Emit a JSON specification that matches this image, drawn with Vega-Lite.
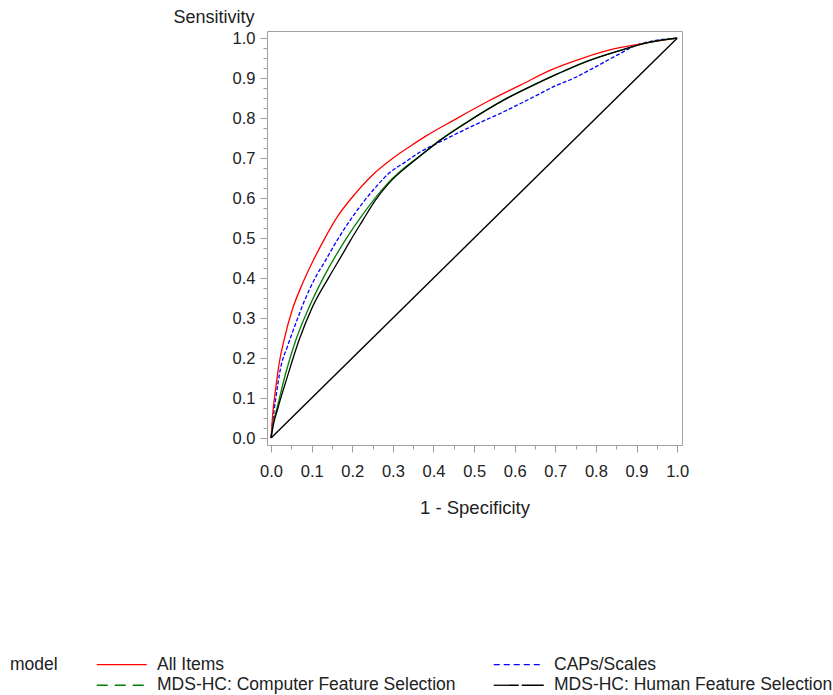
{
  "$schema": "https://vega.github.io/schema/vega-lite/v6.json",
  "autosize": "none",
  "width": 415,
  "height": 414,
  "padding": {"left": 267, "top": 31, "right": 151, "bottom": 250},
  "background": "white",
  "config": {
    "font": "Liberation Sans",
    "view": {"stroke": "#a0a0a0", "strokeWidth": 1},
    "axis": {
      "domain": false,
      "grid": false,
      "tickColor": "#a0a0a0",
      "tickWidth": 1,
      "labelColor": "#222222",
      "titleColor": "#222222",
      "labelFontSize": 16.5,
      "titleFontSize": 18,
      "titleFontWeight": "normal"
    },
    "legend": {
      "labelColor": "#222222",
      "titleColor": "#222222"
    }
  },
  "datasets": {
    "diagonal": [
      {"fpr": 0, "tpr": 0},
      {"fpr": 1, "tpr": 1}
    ],
    "roc": [
      {"model": "All Items", "fpr": 0, "tpr": 0},
      {"model": "All Items", "fpr": 0.005, "tpr": 0.07},
      {"model": "All Items", "fpr": 0.011, "tpr": 0.12},
      {"model": "All Items", "fpr": 0.02, "tpr": 0.187},
      {"model": "All Items", "fpr": 0.032, "tpr": 0.245},
      {"model": "All Items", "fpr": 0.052, "tpr": 0.32},
      {"model": "All Items", "fpr": 0.077, "tpr": 0.385},
      {"model": "All Items", "fpr": 0.102, "tpr": 0.44},
      {"model": "All Items", "fpr": 0.13, "tpr": 0.495},
      {"model": "All Items", "fpr": 0.165, "tpr": 0.556},
      {"model": "All Items", "fpr": 0.208, "tpr": 0.612},
      {"model": "All Items", "fpr": 0.25, "tpr": 0.658},
      {"model": "All Items", "fpr": 0.299, "tpr": 0.699},
      {"model": "All Items", "fpr": 0.34, "tpr": 0.728},
      {"model": "All Items", "fpr": 0.381, "tpr": 0.755},
      {"model": "All Items", "fpr": 0.45, "tpr": 0.795},
      {"model": "All Items", "fpr": 0.532, "tpr": 0.841},
      {"model": "All Items", "fpr": 0.614, "tpr": 0.8825},
      {"model": "All Items", "fpr": 0.688, "tpr": 0.92},
      {"model": "All Items", "fpr": 0.77, "tpr": 0.951},
      {"model": "All Items", "fpr": 0.844, "tpr": 0.973},
      {"model": "All Items", "fpr": 0.934, "tpr": 0.99},
      {"model": "All Items", "fpr": 1, "tpr": 1},

      {"model": "CAPs/Scales", "fpr": 0, "tpr": 0},
      {"model": "CAPs/Scales", "fpr": 0.005, "tpr": 0.05},
      {"model": "CAPs/Scales", "fpr": 0.011, "tpr": 0.095},
      {"model": "CAPs/Scales", "fpr": 0.024, "tpr": 0.178},
      {"model": "CAPs/Scales", "fpr": 0.04, "tpr": 0.228},
      {"model": "CAPs/Scales", "fpr": 0.061, "tpr": 0.287},
      {"model": "CAPs/Scales", "fpr": 0.081, "tpr": 0.34},
      {"model": "CAPs/Scales", "fpr": 0.11, "tpr": 0.403},
      {"model": "CAPs/Scales", "fpr": 0.13, "tpr": 0.437},
      {"model": "CAPs/Scales", "fpr": 0.163, "tpr": 0.495},
      {"model": "CAPs/Scales", "fpr": 0.195, "tpr": 0.545},
      {"model": "CAPs/Scales", "fpr": 0.225, "tpr": 0.587},
      {"model": "CAPs/Scales", "fpr": 0.26, "tpr": 0.63},
      {"model": "CAPs/Scales", "fpr": 0.29, "tpr": 0.662},
      {"model": "CAPs/Scales", "fpr": 0.33, "tpr": 0.69},
      {"model": "CAPs/Scales", "fpr": 0.368, "tpr": 0.716},
      {"model": "CAPs/Scales", "fpr": 0.417, "tpr": 0.741},
      {"model": "CAPs/Scales", "fpr": 0.491, "tpr": 0.778},
      {"model": "CAPs/Scales", "fpr": 0.573, "tpr": 0.816},
      {"model": "CAPs/Scales", "fpr": 0.655, "tpr": 0.8575},
      {"model": "CAPs/Scales", "fpr": 0.704, "tpr": 0.8825},
      {"model": "CAPs/Scales", "fpr": 0.737, "tpr": 0.896},
      {"model": "CAPs/Scales", "fpr": 0.795, "tpr": 0.926},
      {"model": "CAPs/Scales", "fpr": 0.852, "tpr": 0.9575},
      {"model": "CAPs/Scales", "fpr": 0.9, "tpr": 0.9825},
      {"model": "CAPs/Scales", "fpr": 0.951, "tpr": 0.995},
      {"model": "CAPs/Scales", "fpr": 1, "tpr": 1},

      {"model": "MDS-HC: Computer Feature Selection", "fpr": 0, "tpr": 0},
      {"model": "MDS-HC: Computer Feature Selection", "fpr": 0.005, "tpr": 0.035},
      {"model": "MDS-HC: Computer Feature Selection", "fpr": 0.0155, "tpr": 0.078},
      {"model": "MDS-HC: Computer Feature Selection", "fpr": 0.036, "tpr": 0.162},
      {"model": "MDS-HC: Computer Feature Selection", "fpr": 0.061, "tpr": 0.245},
      {"model": "MDS-HC: Computer Feature Selection", "fpr": 0.094, "tpr": 0.328},
      {"model": "MDS-HC: Computer Feature Selection", "fpr": 0.13, "tpr": 0.403},
      {"model": "MDS-HC: Computer Feature Selection", "fpr": 0.184, "tpr": 0.497},
      {"model": "MDS-HC: Computer Feature Selection", "fpr": 0.225, "tpr": 0.558},
      {"model": "MDS-HC: Computer Feature Selection", "fpr": 0.29, "tpr": 0.64},
      {"model": "MDS-HC: Computer Feature Selection", "fpr": 0.33, "tpr": 0.677},
      {"model": "MDS-HC: Computer Feature Selection", "fpr": 0.368, "tpr": 0.707},
      {"model": "MDS-HC: Computer Feature Selection", "fpr": 0.417, "tpr": 0.746},
      {"model": "MDS-HC: Computer Feature Selection", "fpr": 0.491, "tpr": 0.796},
      {"model": "MDS-HC: Computer Feature Selection", "fpr": 0.573, "tpr": 0.846},
      {"model": "MDS-HC: Computer Feature Selection", "fpr": 0.655, "tpr": 0.887},
      {"model": "MDS-HC: Computer Feature Selection", "fpr": 0.704, "tpr": 0.91},
      {"model": "MDS-HC: Computer Feature Selection", "fpr": 0.77, "tpr": 0.939},
      {"model": "MDS-HC: Computer Feature Selection", "fpr": 0.852, "tpr": 0.967},
      {"model": "MDS-HC: Computer Feature Selection", "fpr": 0.934, "tpr": 0.99},
      {"model": "MDS-HC: Computer Feature Selection", "fpr": 1, "tpr": 1},

      {"model": "MDS-HC: Human Feature Selection", "fpr": 0, "tpr": 0},
      {"model": "MDS-HC: Human Feature Selection", "fpr": 0.005, "tpr": 0.03},
      {"model": "MDS-HC: Human Feature Selection", "fpr": 0.0155, "tpr": 0.07},
      {"model": "MDS-HC: Human Feature Selection", "fpr": 0.04, "tpr": 0.153},
      {"model": "MDS-HC: Human Feature Selection", "fpr": 0.069, "tpr": 0.245},
      {"model": "MDS-HC: Human Feature Selection", "fpr": 0.102, "tpr": 0.328},
      {"model": "MDS-HC: Human Feature Selection", "fpr": 0.143, "tpr": 0.403},
      {"model": "MDS-HC: Human Feature Selection", "fpr": 0.176, "tpr": 0.46},
      {"model": "MDS-HC: Human Feature Selection", "fpr": 0.196, "tpr": 0.495},
      {"model": "MDS-HC: Human Feature Selection", "fpr": 0.225, "tpr": 0.543},
      {"model": "MDS-HC: Human Feature Selection", "fpr": 0.255, "tpr": 0.592},
      {"model": "MDS-HC: Human Feature Selection", "fpr": 0.29, "tpr": 0.637},
      {"model": "MDS-HC: Human Feature Selection", "fpr": 0.33, "tpr": 0.675},
      {"model": "MDS-HC: Human Feature Selection", "fpr": 0.368, "tpr": 0.706},
      {"model": "MDS-HC: Human Feature Selection", "fpr": 0.417, "tpr": 0.745},
      {"model": "MDS-HC: Human Feature Selection", "fpr": 0.491, "tpr": 0.795},
      {"model": "MDS-HC: Human Feature Selection", "fpr": 0.573, "tpr": 0.845},
      {"model": "MDS-HC: Human Feature Selection", "fpr": 0.655, "tpr": 0.887},
      {"model": "MDS-HC: Human Feature Selection", "fpr": 0.704, "tpr": 0.91},
      {"model": "MDS-HC: Human Feature Selection", "fpr": 0.77, "tpr": 0.939},
      {"model": "MDS-HC: Human Feature Selection", "fpr": 0.852, "tpr": 0.967},
      {"model": "MDS-HC: Human Feature Selection", "fpr": 0.934, "tpr": 0.99},
      {"model": "MDS-HC: Human Feature Selection", "fpr": 1, "tpr": 1}
    ]
  },
  "layer": [
    {
      "data": {"name": "diagonal"},
      "mark": {"type": "line", "color": "black", "strokeWidth": 1.4},
      "encoding": {
        "x": {
          "field": "fpr", "type": "quantitative",
          "scale": {"domain": [-0.01, 1.012], "nice": false, "zero": false},
          "axis": {
            "orient": "bottom",
            "values": [0.05, 0.15, 0.25, 0.35, 0.45, 0.55, 0.65, 0.75, 0.85, 0.95],
            "labels": false, "tickSize": 4, "title": null
          }
        },
        "y": {
          "field": "tpr", "type": "quantitative",
          "scale": {"domain": [-0.0175, 1.018], "nice": false, "zero": false},
          "axis": {
            "orient": "left",
            "values": [0.025, 0.05, 0.075, 0.125, 0.15, 0.175, 0.225, 0.25, 0.275, 0.325, 0.35, 0.375, 0.425, 0.45, 0.475, 0.525, 0.55, 0.575, 0.625, 0.65, 0.675, 0.725, 0.75, 0.775, 0.825, 0.85, 0.875, 0.925, 0.95, 0.975],
            "labels": false, "tickSize": 4, "title": null
          }
        }
      }
    },
    {
      "data": {"name": "roc"},
      "transform": [{"filter": "datum.model === 'CAPs/Scales'"}],
      "mark": {"type": "line", "strokeWidth": 1.3, "interpolate": "monotone", "strokeDash": [4, 2]},
      "encoding": {
        "x": {"field": "fpr", "type": "quantitative", "scale": {"domain": [-0.01, 1.012], "nice": false, "zero": false}, "axis": null},
        "y": {"field": "tpr", "type": "quantitative", "scale": {"domain": [-0.0175, 1.018], "nice": false, "zero": false}, "axis": null},
        "color": {
          "field": "model", "type": "nominal",
          "scale": {
            "domain": ["All Items", "CAPs/Scales", "MDS-HC: Computer Feature Selection", "MDS-HC: Human Feature Selection"],
            "range": ["#ff0000", "#0000ff", "#008000", "#000000"]
          }
        }
      }
    },
    {
      "data": {"name": "roc"},
      "transform": [{"filter": "datum.model !== 'CAPs/Scales'"}],
      "mark": {"type": "line", "strokeWidth": 1.3, "interpolate": "monotone"},
      "encoding": {
        "x": {
          "field": "fpr", "type": "quantitative",
          "scale": {"domain": [-0.01, 1.012], "nice": false, "zero": false},
          "axis": {
            "orient": "bottom",
            "values": [0, 0.1, 0.2, 0.3, 0.4, 0.5, 0.6, 0.7, 0.8, 0.9, 1],
            "format": ".1f", "tickSize": 7, "labelPadding": 11,
            "title": "1 - Specificity", "titleFontSize": 18.5, "titlePadding": 19
          }
        },
        "y": {
          "field": "tpr", "type": "quantitative",
          "scale": {"domain": [-0.0175, 1.018], "nice": false, "zero": false},
          "axis": {
            "orient": "left",
            "values": [0, 0.1, 0.2, 0.3, 0.4, 0.5, 0.6, 0.7, 0.8, 0.9, 1],
            "format": ".1f", "tickSize": 7, "labelPadding": 5,
            "title": "Sensitivity", "titleAngle": 0, "titleAlign": "right",
            "titleBaseline": "middle", "titleX": -13, "titleY": -14
          }
        },
        "color": {
          "field": "model", "type": "nominal",
          "scale": {
            "domain": ["All Items", "CAPs/Scales", "MDS-HC: Computer Feature Selection", "MDS-HC: Human Feature Selection"],
            "range": ["#ff0000", "#0000ff", "#008000", "#000000"]
          },
          "legend": {
            "title": "model",
            "orient": "none",
            "legendX": -257,
            "legendY": 624.5,
            "direction": "horizontal",
            "columns": 2,
            "titleOrient": "left",
            "titleAnchor": "start",
            "titleBaseline": "top",
            "titleFontSize": 17.5,
            "titleFontWeight": "normal",
            "titlePadding": 30,
            "labelFontSize": 17.5,
            "labelLimit": 500,
            "labelOffset": 51.5,
            "symbolType": "M0,0H20",
            "symbolSize": 25,
            "symbolStrokeWidth": 1.3,
            "columnPadding": 29,
            "rowPadding": 2,
            "encode": {
              "symbols": {
                "update": {
                  "strokeDash": {"signal": "datum.value === 'CAPs/Scales' ? [6, 4] : datum.value === 'MDS-HC: Computer Feature Selection' ? [11, 7] : datum.value === 'MDS-HC: Human Feature Selection' ? [25, 3] : [1, 0]"}
                }
              }
            }
          }
        }
      }
    }
  ],
  "resolve": {"axis": {"x": "independent", "y": "independent"}}
}
